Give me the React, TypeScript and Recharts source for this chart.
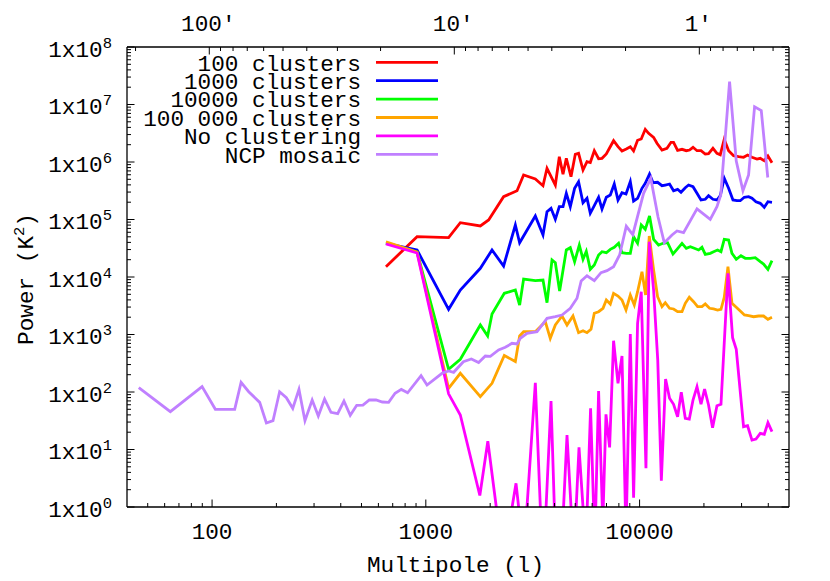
// Power spectrum vs multipole, log-log, gnuplot look-alike.
// Values.

import React from "react";
import { LineChart, Line, XAxis, YAxis } from "recharts";

// ── Data: multipole l and power (K^2) per run ──────────────────────────────

const RED_L = [651, 910, 1278, 1450, 1799, 1967, 2311, 2671, 2867, 3253, 3533, 3689, 4035, 4212, 4383, 4542, 4777, 5003, 5183, 5437, 5675, 5880, 6140, 6431, 6671, 6988, 7556, 7925, 8274, 8666, 9049, 9374, 9786, 10180, 10630, 11020, 11630, 12060, 12730, 13430, 14030, 14420, 15060, 15790, 16540, 17130, 17780, 18560, 19380, 20290, 21020, 22040, 23010, 23850, 24890, 26090, 27520, 29040, 30650, 32000, 33560, 35410, 36690, 38310, 39850, 41620];
const RED_P = [15110, 50210, 48260, 87980, 77080, 98000, 249000, 316800, 593800, 506100, 387000, 777000, 398000, 1236000, 611000, 1159000, 555000, 1361000, 1416000, 725600, 1012000, 980000, 1572000, 1141000, 1159000, 1377000, 2346000, 1845000, 1554000, 1683000, 1845000, 1554000, 2384000, 2512000, 3703000, 3155000, 2688000, 2114000, 1616000, 1730000, 2200000, 2200000, 1597000, 1663000, 1572000, 1616000, 1802000, 1572000, 1572000, 1377000, 1394000, 1730000, 1416000, 1339000, 2481000, 1572000, 1287000, 1236000, 1206000, 1323000, 1206000, 1127000, 1159000, 1053000, 1272000, 972000];

const BLUE_L = [651, 910, 1278, 1450, 1799, 2040, 2311, 2623, 2747, 3253, 3533, 3689, 3852, 4035, 4212, 4383, 4542, 4741, 4966, 5183, 5437, 5675, 5880, 6140, 6431, 6671, 6988, 7295, 7613, 7925, 8274, 8638, 9049, 9374, 9786, 10260, 10630, 11130, 11560, 12140, 12730, 13190, 13810, 14420, 15060, 15620, 16360, 16950, 17780, 18560, 19380, 20290, 21020, 22040, 23010, 23850, 24890, 26090, 27340, 28540, 29580, 30880, 32350, 33560, 35030, 36690, 38310, 39850, 41620];
const BLUE_P = [38550, 29480, 2743, 5940, 14160, 29480, 15540, 80230, 39480, 115000, 53760, 136600, 156500, 100800, 167000, 167000, 285500, 167000, 348700, 454300, 196000, 233700, 128200, 173800, 243200, 152200, 243200, 266800, 414300, 218300, 292400, 277600, 454300, 209700, 233700, 348700, 426100, 618500, 436400, 443500, 387000, 398000, 414300, 316800, 335000, 297200, 357300, 398000, 371900, 285500, 218300, 224500, 259300, 224500, 218300, 259300, 520400, 348700, 218300, 212300, 212300, 243200, 249000, 233700, 203900, 191200, 163000, 203900, 199100];

const GREEN_L = [651, 910, 1278, 1450, 1799, 1946, 2040, 2329, 2623, 2747, 2867, 3253, 3533, 3689, 3893, 4035, 4226, 4542, 4741, 4966, 5224, 5437, 5632, 5880, 6140, 6431, 6671, 6988, 7295, 7613, 7977, 8274, 8666, 9049, 9374, 9786, 10180, 10630, 11130, 11630, 12270, 12870, 13520, 14330, 14960, 15790, 16540, 17270, 18030, 18880, 19580, 20290, 21410, 22190, 23160, 24030, 24890, 26090, 27050, 28330, 29800, 31220, 32940, 34760, 36690, 38020, 39850, 41620];
const GREEN_P = [39020, 27210, 248, 370, 1463, 942, 2272, 5205, 5940, 3258, 9230, 8622, 8867, 3573, 19750, 17730, 5708, 29480, 32320, 18450, 36020, 20320, 27990, 13610, 16170, 24130, 27540, 26460, 30310, 32850, 38550, 26460, 25840, 25840, 50210, 38550, 80230, 67520, 115000, 45250, 36020, 38550, 39480, 25120, 30310, 38550, 31560, 33650, 31560, 29480, 32850, 24820, 25840, 27540, 29480, 27540, 45250, 44000, 25840, 20320, 23460, 21150, 21150, 21660, 18450, 16830, 13610, 19210];

const ORANGE_L = [651, 910, 1278, 1450, 1799, 2040, 2329, 2623, 2747, 2867, 3253, 3622, 3821, 4035, 4337, 4576, 4880, 5183, 5437, 5675, 5925, 6140, 6431, 6743, 6988, 7295, 7556, 7925, 8274, 8638, 9049, 9445, 9786, 10260, 10670, 11100, 11630, 12140, 12730, 13190, 13810, 14420, 15060, 15790, 16360, 17080, 17890, 18680, 19580, 20290, 21250, 22190, 23160, 24030, 24890, 25910, 27050, 28330, 29580, 30930, 32350, 34140, 36030, 38020, 39850, 41620];
const ORANGE_P = [41100, 27210, 116, 211.5, 82.8, 141.7, 431, 339, 942, 1118, 1118, 1670, 859, 1463, 2097, 1463, 2097, 1075, 1165, 1075, 1231, 2336, 2492, 2855, 3981, 3391, 5205, 4673, 3981, 2667, 4863, 3258, 5550, 12360, 4863, 51640, 13240, 4543, 3044, 3573, 2855, 2777, 2492, 2492, 3487, 4436, 3719, 3044, 3044, 3391, 2855, 2777, 2667, 2743, 4436, 15110, 3487, 2972, 2563, 2183, 2123, 2039, 2097, 2097, 1838, 1991];

// values under 1 run off the bottom of the plot
const MAGENTA_L = [651, 910, 1278, 1450, 1789, 1950, 2230, 2432, 2642, 2767, 2888, 3253, 3533, 3852, 4035, 4280, 4576, 4924, 5207, 5603, 5899, 6172, 6431, 6729, 6963, 7240, 7556, 7925, 8274, 8638, 9049, 9374, 9786, 10180, 10710, 11100, 11630, 12160, 12640, 13230, 13810, 14420, 15060, 15670, 16360, 17080, 17780, 18560, 19380, 20140, 21020, 21950, 23010, 24030, 25910, 27230, 28330, 30650, 32000, 33560, 35030, 36690, 38310, 39850, 41620];
const MAGENTA_P = [37490, 26150, 93, 39.8, 1.585, 13.9, 0.29, 0.4, 2.58, 0.54, 0.2, 145, 0.07, 69.7, 0.28, 0.1, 17.9, 0.133, 10.9, 0.187, 52, 0.206, 104, 0.53, 40.9, 10.9, 780, 141.7, 423, 0.3, 1020, 1.45, 1565, 5550, 4.71, 41100, 5940, 360, 2.87, 168, 77.7, 61.1, 37.2, 98.8, 34.9, 33.9, 72.6, 123.7, 61.1, 112.8, 59.4, 23.9, 57.8, 61.1, 11600, 879.7, 552.8, 24.9, 25.9, 14.6, 15.2, 19.1, 18.4, 29.2, 20.4];

const PURPLE_L = [45.4, 63.8, 89.8, 103.6, 127.6, 136.7, 148.4, 167, 179.5, 192.8, 207, 222.6, 238.5, 255, 272, 294, 314, 336, 360, 387, 414, 443, 475, 508, 544, 585, 626, 670, 718, 768, 822, 950, 1013, 1191, 1278, 1349, 1498, 1633, 1766, 1898, 2003, 2190, 2354, 2531, 2671, 2767, 2975, 3313, 3689, 4035, 4337, 4741, 5096, 5330, 5675, 6140, 6601, 7039, 7556, 8064, 8666, 9294, 10440, 11280, 12200, 13050, 14180, 14960, 16060, 18560, 21410, 23010, 23980, 26360, 28330, 30450, 32350, 34510, 37090, 39780];
const PURPLE_P = [119, 45.4, 124, 50, 50, 147, 101, 66, 28.9, 31.7, 101, 79.6, 52, 111, 31.7, 72.6, 38.3, 75.5, 44.4, 42, 69.7, 39.3, 58.7, 59, 72.6, 72.6, 67, 66, 95, 111, 97, 192, 132, 211.5, 231.8, 220, 336.5, 374.8, 325.8, 423, 417.8, 537.7, 599, 703, 683.7, 858.8, 1049, 1118, 1913, 2039, 2183, 2855, 4262, 8519, 10490, 8622, 11880, 12870, 15110, 24130, 76150, 54390, 285500, 520400, 110500, 39480, 53760, 63100, 58940, 153500, 100800, 167000, 266800, 24910000, 1041000, 316800, 593800, 9156000, 7862000, 537400];

const SERIES = [
  { name: "100 clusters",     color: "#ff0000", l: RED_L,     p: RED_P },
  { name: "1000 clusters",    color: "#0000ff", l: BLUE_L,    p: BLUE_P },
  { name: "10000 clusters",   color: "#00ff00", l: GREEN_L,   p: GREEN_P },
  { name: "100 000 clusters", color: "#ffa500", l: ORANGE_L,  p: ORANGE_P },
  { name: "No clustering",    color: "#ff00ff", l: MAGENTA_L, p: MAGENTA_P },
  { name: "NCP mosaic",       color: "#c080ff", l: PURPLE_L,  p: PURPLE_P },
];

// ── Axes ───────────────────────────────────────────────────────────────────

const X_MAJOR = [100, 1000, 10000];
const X_MINOR = [50, 60, 70, 80, 90, 200, 300, 400, 500, 600, 700, 800, 900,
  2000, 3000, 4000, 5000, 6000, 7000, 8000, 9000, 20000, 30000, 40000];

// top axis: angular scale in arcmin
const T_MAJOR = [100, 10, 1];
const T_MINOR = [200, 90, 80, 70, 60, 50, 40, 30, 20, 9, 8, 7, 6, 5, 4, 3, 2,
  0.9, 0.8, 0.7, 0.6, 0.5];

const Y_MAJOR = [1, 1e1, 1e2, 1e3, 1e4, 1e5, 1e6, 1e7, 1e8];
const Y_MINOR = Y_MAJOR.slice(0, 8).flatMap(d => [2, 3, 4, 5, 6, 7, 8, 9].map(m => m * d));

const W = 830;
const H = 581;
const PLOT = { left: 127, right: 789, top: 47, bottom: 507 };
const FONT = "'Liberation Mono', 'DejaVu Sans Mono', monospace";
const FS = 22.7;
const INK = "#000";
const MAJ = 7.5;
const MIN = 4;

const isMajor = (list: number[], v: number) => list.some(m => Math.abs(m - v) < 1e-9 * Math.max(1, m));

function BottomTick({ x, payload }: any) {
  const major = isMajor(X_MAJOR, payload.value);
  return (
    <g>
      <line x1={x} x2={x} y1={PLOT.bottom} y2={PLOT.bottom - (major ? MAJ : MIN)} stroke={INK} strokeWidth={1} />
      {major && (
        <text x={x} y={539} textAnchor="middle" fontFamily={FONT} fontSize={FS} fill={INK}>
          {payload.value}
        </text>
      )}
    </g>
  );
}

function TopTick({ x, payload }: any) {
  const major = isMajor(T_MAJOR, payload.value);
  return (
    <g>
      <line x1={x} x2={x} y1={PLOT.top} y2={PLOT.top + (major ? MAJ : MIN)} stroke={INK} strokeWidth={1} />
      {major && (
        <text x={x - 1} y={31} textAnchor="middle" fontFamily={FONT} fontSize={FS} fill={INK}>
          {`${payload.value}\u2032`}
        </text>
      )}
    </g>
  );
}

function LeftTick({ y, payload }: any) {
  const major = isMajor(Y_MAJOR, payload.value);
  const exp = Math.round(Math.log10(payload.value));
  return (
    <g>
      <line x1={PLOT.left} x2={PLOT.left + (major ? MAJ : MIN)} y1={y} y2={y} stroke={INK} strokeWidth={1} />
      {major && (
        <text x={112} y={y + 9.5} textAnchor="end" fontFamily={FONT} fontSize={FS} fill={INK}>
          1x10<tspan dy={-9} fontSize={15.5}>{exp}</tspan>
        </text>
      )}
    </g>
  );
}

function RightTick({ y, payload }: any) {
  const major = isMajor(Y_MAJOR, payload.value);
  return (
    <line x1={PLOT.right} x2={PLOT.right - (major ? MAJ : MIN)} y1={y} y2={y} stroke={INK} strokeWidth={1} />
  );
}

// ── Overlay: legend and axis titles ────────────────────────────────────────

function Overlay() {
  return (
    <svg width={W} height={H} style={{ position: "absolute", left: 0, top: 0, pointerEvents: "none" }}>
      {SERIES.map((s, i) => (
        <g key={s.name}>
          <text x={361} y={70.5 + i * 18.4} textAnchor="end" fontFamily={FONT} fontSize={FS} fill={INK}>
            {s.name}
          </text>
          <line x1={376} x2={438} y1={62.3 + i * 18.4} y2={62.3 + i * 18.4} stroke={s.color} strokeWidth={2.8} />
        </g>
      ))}
      <text x={455.5} y={572} textAnchor="middle" fontFamily={FONT} fontSize={FS} fill={INK}>
        Multipole (l)
      </text>
      <text x={33} y={279} transform="rotate(-90 33 279)" textAnchor="middle" fontFamily={FONT} fontSize={FS} fill={INK}>
        Power (K<tspan dy={-9} fontSize={15.5}>2</tspan><tspan dy={9}>)</tspan>
      </text>
    </svg>
  );
}

// the top (arcmin) and right axes only mirror the frame; this empty series
// ties them into the chart so they get drawn
const FRAME_ANCHOR = [{ t: 1, p: null }];

export default function App() {
  const axisLine = { stroke: INK, strokeWidth: 1.3 };
  return (
    <div style={{ position: "absolute", left: 0, top: 0, width: W, height: H, background: "#fff" }}>
      <LineChart width={W} height={H} margin={{ top: 0, right: 0, bottom: 0, left: 0 }}>
        <XAxis
          xAxisId="bottom" type="number" dataKey="l" scale="log" domain={[40, 50000]} allowDataOverflow
          ticks={[...X_MAJOR, ...X_MINOR]} interval={0} height={H - PLOT.bottom}
          tick={<BottomTick />} tickLine={false} axisLine={axisLine}
        />
        <XAxis
          xAxisId="top" orientation="top" type="number" dataKey="t" scale="log" domain={[0.4305, 216.7]} allowDataOverflow reversed
          ticks={[...T_MAJOR, ...T_MINOR]} interval={0} height={PLOT.top}
          tick={<TopTick />} tickLine={false} axisLine={axisLine}
        />
        <YAxis
          yAxisId="left" type="number" scale="log" domain={[1, 1e8]} allowDataOverflow
          ticks={[...Y_MAJOR, ...Y_MINOR]} interval={0} width={PLOT.left}
          tick={<LeftTick />} tickLine={false} axisLine={axisLine}
        />
        <YAxis
          yAxisId="right" orientation="right" type="number" scale="log" domain={[1, 1e8]} allowDataOverflow
          ticks={[...Y_MAJOR, ...Y_MINOR]} interval={0} width={W - PLOT.right}
          tick={<RightTick />} tickLine={false} axisLine={axisLine}
        />
        <Line
          xAxisId="top" yAxisId="right" data={FRAME_ANCHOR} dataKey="p" stroke="none"
          dot={false} activeDot={false} legendType="none" isAnimationActive={false}
        />
        {SERIES.map(s => (
          <Line
            key={s.name}
            xAxisId="bottom"
            yAxisId="left"
            data={s.l.map((l, i) => ({ l, p: s.p[i] }))}
            dataKey="p"
            name={s.name}
            stroke={s.color}
            strokeWidth={2.8}
            dot={false}
            activeDot={false}
            isAnimationActive={false}
          />
        ))}
      </LineChart>
      <Overlay />
    </div>
  );
}
